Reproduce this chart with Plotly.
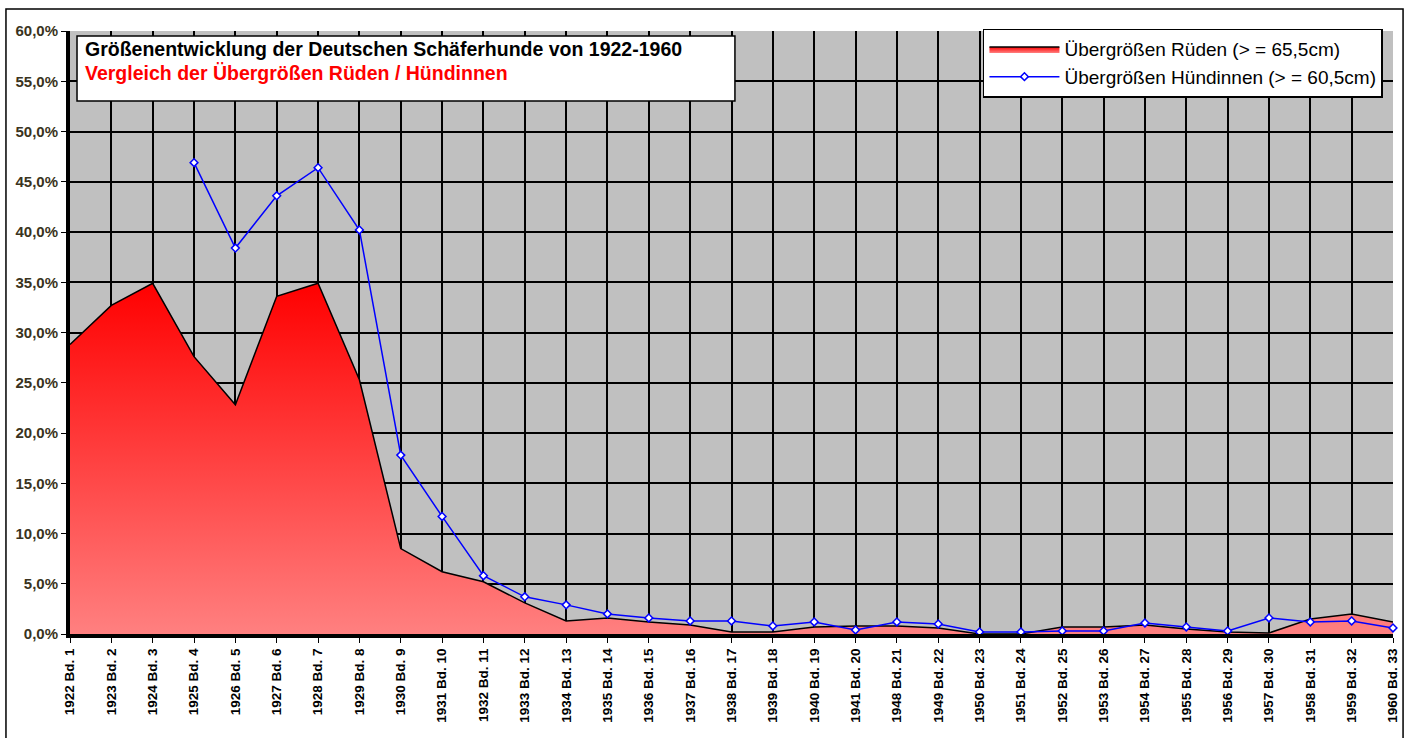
import plotly.graph_objects as go

# Kategorien (Jahrgang / Zuchtbuchband)
kategorien = [
    "1922 Bd. 1", "1923 Bd. 2", "1924 Bd. 3", "1925 Bd. 4", "1926 Bd. 5",
    "1927 Bd. 6", "1928 Bd. 7", "1929 Bd. 8", "1930 Bd. 9", "1931 Bd. 10",
    "1932 Bd. 11", "1933 Bd. 12", "1934 Bd. 13", "1935 Bd. 14", "1936 Bd. 15",
    "1937 Bd. 16", "1938 Bd. 17", "1939 Bd. 18", "1940 Bd. 19", "1941 Bd. 20",
    "1948 Bd. 21", "1949 Bd. 22", "1950 Bd. 23", "1951 Bd. 24", "1952 Bd. 25",
    "1953 Bd. 26", "1954 Bd. 27", "1955 Bd. 28", "1956 Bd. 29", "1957 Bd. 30",
    "1958 Bd. 31", "1959 Bd. 32", "1960 Bd. 33",
]

# Übergrößen Rüden (>= 65,5cm) in %
rueden = [
    28.8, 32.7, 34.9, 27.6, 22.8, 33.6, 34.9, 25.3, 8.5, 6.2,
    5.2, 3.1, 1.3, 1.6, 1.2, 0.9, 0.2, 0.2, 0.7, 0.8,
    0.8, 0.6, 0.0, 0.0, 0.7, 0.7, 0.9, 0.5, 0.2, 0.1,
    1.5, 2.0, 1.2,
]

# Übergrößen Hündinnen (>= 60,5cm) in %
huendinnen = [
    None, None, None, 46.9, 38.4, 43.6, 46.4, 40.2, 17.8, 11.7,
    5.8, 3.7, 2.9, 2.0, 1.6, 1.3, 1.3, 0.8, 1.2, 0.4,
    1.2, 1.0, 0.2, 0.2, 0.3, 0.3, 1.1, 0.7, 0.3, 1.6,
    1.2, 1.3, 0.6,
]

y_ticks = [0, 5, 10, 15, 20, 25, 30, 35, 40, 45, 50, 55, 60]
y_ticktext = [f"{v:.1f}%".replace(".", ",") for v in y_ticks]

FONT = "Arial, Liberation Sans, sans-serif"

fig = go.Figure()

fig.add_trace(go.Scatter(
    x=kategorien, y=rueden,
    name="Übergrößen Rüden (> = 65,5cm)",
    mode="lines",
    line=dict(color="black", width=1.5),
    fill="tozeroy",
    fillcolor="#ff7070",
    fillgradient=dict(
        type="vertical",
        start=0, stop=35,
        colorscale=[[0, "#ff8080"], [1, "#ff0000"]],
    ),
))

fig.add_trace(go.Scatter(
    x=kategorien, y=huendinnen,
    name="Übergrößen Hündinnen (> = 60,5cm)",
    mode="lines+markers",
    line=dict(color="#0000ff", width=1.5),
    marker=dict(symbol="diamond", size=6, color="white",
                line=dict(color="#0000ff", width=1.5)),
    cliponaxis=False,
))

# Titelkasten
fig.add_shape(type="rect", xref="paper", yref="paper",
              x0=0.0053, x1=0.5026, y0=0.884, y1=0.9917,
              fillcolor="white", line=dict(color="black", width=1.5),
              layer="above")
fig.add_annotation(xref="paper", yref="paper", x=0.0098, y=0.97,
                   xanchor="left", yanchor="middle", showarrow=False,
                   text="<b>Größenentwicklung der Deutschen Schäferhunde von 1922-1960</b>",
                   font=dict(family=FONT, size=19.5, color="black"))
fig.add_annotation(xref="paper", yref="paper", x=0.0098, y=0.93,
                   xanchor="left", yanchor="middle", showarrow=False,
                   text="<b>Vergleich der Übergrößen Rüden / Hündinnen</b>",
                   font=dict(family=FONT, size=19.5, color="#ff0000"))

# äußerer Rahmen
fig.add_shape(type="rect", xref="paper", yref="paper",
              x0=-0.0484, x1=1.0076, y0=-0.2, y1=1.0365,
              line=dict(color="black", width=1.5), fillcolor="rgba(0,0,0,0)")

fig.update_layout(
    width=1410, height=738,
    paper_bgcolor="white",
    plot_bgcolor="#c0c0c0",
    font=dict(family=FONT, size=12, color="black"),
    margin=dict(l=70, r=17, t=31, b=104, autoexpand=False),
    showlegend=True,
    legend=dict(
        x=0.9924, y=1.004, xanchor="right", yanchor="top",
        bgcolor="white", bordercolor="black", borderwidth=1.5,
        font=dict(family=FONT, size=19, color="black"),
        itemwidth=70,
    ),
    xaxis=dict(
        type="category",
        range=[0, len(kategorien) - 1],
        tickangle=-90,
        showgrid=True, gridcolor="black", gridwidth=2,
        showline=True, linecolor="black", linewidth=4,
        ticks="outside", ticklen=5, tickcolor="black",
        tickfont=dict(family=FONT, size=13.5, color="black", weight="bold"),
        zeroline=False,
    ),
    yaxis=dict(
        range=[0, 60],
        tickvals=y_ticks,
        ticktext=y_ticktext,
        showgrid=True, gridcolor="black", gridwidth=2,
        showline=True, linecolor="black", linewidth=4,
        ticks="outside", ticklen=5, tickcolor="black",
        tickfont=dict(family=FONT, size=15, color="#3a3320", weight="bold"),
        zeroline=False,
    ),
)

fig.write_html("out.html", config={"displayModeBar": False},
               post_script="document.body.style.margin='0';")
